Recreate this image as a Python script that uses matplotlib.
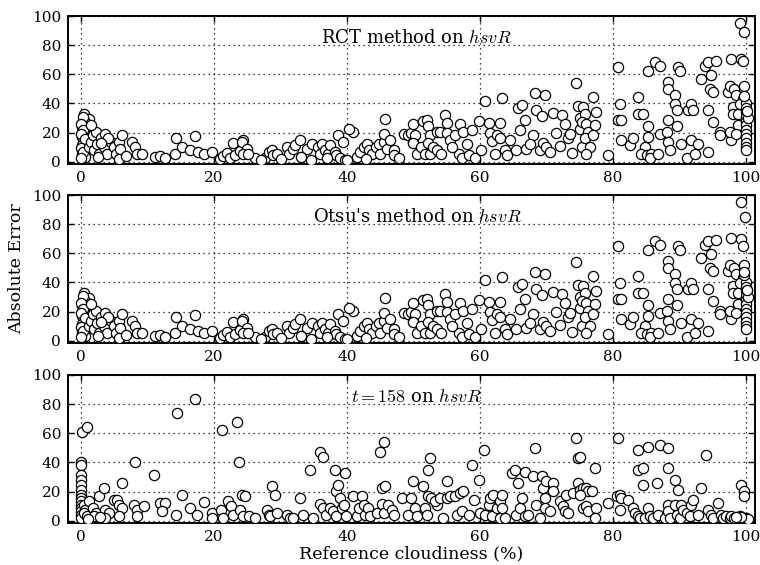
import matplotlib
matplotlib.use("Agg")
import matplotlib.pyplot as plt

# ---------------- data ----------------
panel_titles = [r"RCT method on $hsvR$", r"Otsu's method on $hsvR$", r"$t = 158$ on $hsvR$"]
x_ticks = [0, 20, 40, 60, 80, 100]
y_ticks = [0, 20, 40, 60, 80, 100]

rct_x = [0.4, 1.1, 0.6, 0.1, 0.4, 0.1, 0.6, 0.1, 0.4, 0.1, 0.6, 0.2, 0.0, 0.3, 0.0, 0.5, 0.0, 0.3, 0.0,
         1.1, 1.4, 1.7, 2.2, 1.9, 2.4, 2.9, 2.7, 3.4, 3.6, 3.9, 4.4, 4.9, 5.2, 5.7, 5.9, 6.2, 5.7, 7.6, 8.1, 8.4, 9.1, 1.5, 2.5, 4.0, 6.8, 3.0,
         11.1, 11.9, 12.6, 14.1, 14.3, 15.1, 16.4, 17.1, 17.6, 18.4, 19.6,
         20.9, 21.4, 21.9, 22.4, 22.8, 23.2, 23.9, 24.4,
         24.2, 24.9, 24.4, 26.2, 25.1, 27.7, 28.2, 28.7, 28.9, 29.4, 30.9, 31.2, 31.9, 32.2, 32.9, 34.0, 34.7, 35.7, 36.2, 35.9, 36.7, 37.2, 37.4, 38.2, 38.4, 38.9, 39.7,
         38.7, 39.4, 40.9, 40.3,
         41.5, 42.0, 42.5, 43.0, 43.3, 43.8, 44.3, 44.8, 45.0, 45.5, 45.5, 45.7, 46.0, 46.5, 47.0, 47.0, 48.5, 49.2, 49.7, 50.0, 50.0,
         27.0, 30.0, 33.0, 34.5, 37.0, 40.0, 42.8, 47.8,
         50.2, 50.0, 50.5, 51.2, 51.5, 52.0, 52.2, 52.5, 52.2, 51.8, 52.5, 53.0, 53.5, 54.0, 53.5, 54.2, 54.7, 55.0, 55.0, 55.5, 56.3, 56.8, 57.0, 57.5, 57.3, 58.3, 58.8, 59.3, 59.8,
         60.8, 61.3, 61.5, 61.8, 62.3, 62.5, 63.0, 63.3, 63.0, 63.8, 64.0, 65.5, 65.8, 66.3, 66.8, 67.0, 68.0, 68.3, 68.5, 69.0, 69.3, 69.8, 69.5, 70.0, 70.5,
         71.0, 72.3, 72.8, 73.3, 73.5, 74.5, 74.8, 75.0, 75.3, 75.0,
         55.8, 58.0, 60.2, 64.5, 66.0, 67.5, 71.5, 72.0, 73.8,
         77.0, 75.5, 75.8, 75.3, 76.0, 76.3, 75.8, 76.5, 76.0, 77.3, 77.5, 77.0, 79.3, 80.8, 81.1, 80.8, 81.3, 81.3, 82.6, 83.1, 83.8, 83.8, 84.6, 84.8, 84.3, 85.1,
         85.3, 85.3, 85.3, 85.8, 85.6, 86.3, 87.1, 87.1, 86.8, 88.3, 88.3, 89.3, 89.3, 89.6, 88.3, 88.1, 88.3, 88.6, 89.6, 89.8, 90.1, 90.3,
         91.3, 91.8, 92.1, 91.8, 91.1, 92.3, 92.8, 93.3, 93.8, 94.3, 94.8, 94.6, 95.1, 94.3, 95.1, 94.3, 95.6, 96.1, 96.1,
         97.3, 97.6, 97.8, 97.8, 97.6, 98.1, 98.1, 98.3, 98.6, 98.8, 99.1, 99.3, 99.6, 99.8, 99.8, 99.6, 99.1, 98.8, 98.6,
         100.0, 100.0, 100.0, 100.0, 100.0, 100.0, 100.0, 100.0, 100.0, 100.0, 100.0, 100.0, 100.3, 99.8, 100.2]
rct_y = [33.0, 29.6, 27.3, 23.9, 20.5, 17.1, 13.7, 11.4, 8.0, 5.7, 3.4, 30.5, 26.0, 22.0, 19.0, 15.5, 9.5, 6.5, 2.5,
         10.2, 13.7, 18.2, 20.5, 8.0, 12.5, 16.0, 5.7, 10.2, 19.4, 5.7, 13.7, 10.2, 5.7, 13.7, 9.0, 18.2, 1.6, 13.7, 10.2, 5.7, 5.7, 25.0, 3.0, 16.0, 4.0, 13.0,
         3.4, 3.9, 2.3, 5.7, 16.4, 10.2, 8.0, 17.5, 7.0, 5.7, 7.0,
         1.7, 3.9, 6.2, 2.8, 13.0, 5.0, 7.3, 15.3,
         13.7, 9.0, 5.7, 2.3, 5.7, 2.3, 7.0, 8.0, 4.6, 5.7, 10.2, 5.7, 9.0, 11.4, 14.8, 9.0, 12.5, 10.2, 12.5, 5.7, 8.0, 5.7, 11.4, 7.0, 4.6, 2.3, 1.1,
         18.2, 13.7, 20.5, 22.8,
         3.4, 7.0, 10.2, 12.5, 8.0, 5.7, 10.2, 12.5, 5.7, 13.7, 19.4, 29.6, 9.0, 14.8, 8.0, 4.6, 19.4, 18.2, 19.9, 26.2, 13.7,
         1.5, 2.0, 3.0, 1.5, 2.5, 1.5, 2.0, 2.5,
         18.7, 13.0, 5.7, 10.2, 27.8, 29.0, 24.4, 18.7, 13.0, 5.7, 5.7, 10.2, 20.5, 20.5, 8.0, 5.7, 32.4, 26.7, 19.9, 14.8, 18.2, 5.7, 25.6, 20.5, 2.3, 4.6, 21.6, 2.3, 27.8,
         41.5, 26.7, 19.9, 14.1, 5.7, 18.2, 16.0, 43.8, 26.7, 8.0, 4.6, 8.0, 37.0, 39.2, 29.0, 9.0, 18.2, 47.2, 35.8, 8.0, 31.2, 46.1, 13.0, 10.2, 7.0,
         33.5, 32.4, 25.6, 16.0, 19.4, 54.0, 38.1, 30.1, 10.2, 22.7,
         10.0, 12.0, 8.0, 15.0, 22.0, 12.0, 20.0, 11.0, 6.0,
         44.4, 37.6, 33.0, 27.3, 26.2, 20.5, 16.0, 10.2, 5.7, 25.0, 34.1, 18.2, 4.6, 64.8, 39.8, 28.4, 28.4, 14.8, 11.4, 16.0, 44.4, 33.0, 33.0, 10.2, 5.7, 4.6,
         62.6, 24.9, 17.1, 5.7, 2.3, 68.3, 66.0, 19.4, 5.7, 54.6, 50.1, 45.5, 39.8, 35.2, 28.4, 20.5, 13.7, 8.0, 24.9, 64.8, 62.6, 12.5,
         35.2, 39.8, 35.2, 14.8, 2.3, 5.7, 12.5, 56.9, 66.0, 68.3, 59.2, 50.1, 47.8, 35.2, 27.3, 6.8, 69.4, 20.5, 18.2,
         47.8, 52.3, 70.6, 14.8, 20.5, 37.6, 33.0, 50.1, 45.5, 33.0, 95.5, 70.6, 69.4, 88.7, 52.3, 43.3, 39.8, 25.0, 19.4,
         40.0, 37.0, 34.0, 31.0, 28.0, 25.0, 22.0, 19.0, 16.0, 13.0, 10.0, 8.0, 30.0, 45.0, 35.0]

otsu_x = [0.4, 1.1, 0.6, 0.1, 0.4, 0.1, 0.6, 0.1, 0.4, 0.1, 0.6, 0.2, 0.0, 0.3, 0.0, 0.5, 0.0, 0.3, 0.0,
          1.1, 1.4, 1.7, 2.2, 1.9, 2.4, 2.9, 2.7, 3.4, 3.6, 3.9, 4.4, 4.9, 5.2, 5.7, 5.9, 6.2, 5.7, 7.6, 8.1, 8.4, 9.1, 1.5, 2.5, 4.0, 6.8, 3.0,
          11.1, 11.9, 12.6, 14.1, 14.3, 15.1, 16.4, 17.1, 17.6, 18.4, 19.6,
          20.9, 21.4, 21.9, 22.4, 22.8, 23.2, 23.9, 24.4,
          24.2, 24.9, 24.4, 26.2, 25.1, 27.7, 28.2, 28.7, 28.9, 29.4, 30.9, 31.2, 31.9, 32.2, 32.9, 34.0, 34.7, 35.7, 36.2, 35.9, 36.7, 37.2, 37.4, 38.2, 38.4, 38.9, 39.7,
          38.7, 39.4, 40.9, 40.3,
          41.5, 42.0, 42.5, 43.0, 43.3, 43.8, 44.3, 44.8, 45.0, 45.5, 45.5, 45.7, 46.0, 46.5, 47.0, 47.0, 48.5, 49.2, 49.7, 50.0, 50.0,
          27.0, 30.0, 33.0, 34.5, 37.0, 40.0, 42.8, 47.8,
          50.2, 50.0, 50.5, 51.2, 51.5, 52.0, 52.2, 52.5, 52.2, 51.8, 52.5, 53.0, 53.5, 54.0, 53.5, 54.2, 54.7, 55.0, 55.0, 55.5, 56.3, 56.8, 57.0, 57.5, 57.3, 58.3, 58.8, 59.3, 59.8,
          60.8, 61.3, 61.5, 61.8, 62.3, 62.5, 63.0, 63.3, 63.0, 63.8, 64.0, 65.5, 65.8, 66.3, 66.8, 67.0, 68.0, 68.3, 68.5, 69.0, 69.3, 69.8, 69.5, 70.0, 70.5,
          71.0, 72.3, 72.8, 73.3, 73.5, 74.5, 74.8, 75.0, 75.3, 75.0,
          55.8, 58.0, 60.2, 64.5, 66.0, 67.5, 71.5, 72.0, 73.8,
          77.0, 75.5, 75.8, 75.3, 76.0, 76.3, 75.8, 76.5, 76.0, 77.3, 77.5, 77.0, 79.3, 80.8, 81.1, 80.8, 81.3, 81.3, 82.6, 83.1, 83.8, 83.8, 84.6, 84.8, 84.3, 85.1,
          85.3, 85.3, 85.3, 85.8, 85.6, 86.3, 87.1, 87.1, 86.8, 88.3, 88.3, 89.3, 89.3, 89.6, 88.3, 88.1, 88.3, 88.6, 89.6, 89.8, 90.1, 90.3,
          91.3, 91.8, 92.1, 91.8, 91.1, 92.3, 92.8, 93.3, 93.8, 94.3, 94.8, 94.6, 95.1, 94.3, 95.1, 94.3, 95.6, 96.1, 96.1,
          97.3, 97.6, 97.8, 97.8, 97.6, 98.1, 98.1, 98.3, 98.6, 98.8, 99.3, 99.3, 99.6, 99.9, 99.8, 99.6, 99.1, 98.8, 98.6,
          100.0, 100.0, 100.0, 100.0, 100.0, 100.0, 100.0, 100.0, 100.0, 100.0, 100.0, 100.0, 100.3, 99.8, 100.2, 99.7]
otsu_y = [33.0, 29.6, 27.3, 23.9, 20.5, 17.1, 13.7, 11.4, 8.0, 5.7, 3.4, 30.5, 26.0, 22.0, 19.0, 15.5, 9.5, 6.5, 2.5,
          10.2, 13.7, 18.2, 20.5, 8.0, 12.5, 16.0, 5.7, 10.2, 19.4, 5.7, 13.7, 10.2, 5.7, 13.7, 9.0, 18.2, 1.6, 13.7, 10.2, 5.7, 5.7, 25.0, 3.0, 16.0, 4.0, 13.0,
          3.4, 3.9, 2.3, 5.7, 16.4, 10.2, 8.0, 17.5, 7.0, 5.7, 7.0,
          1.7, 3.9, 6.2, 2.8, 13.0, 5.0, 7.3, 15.3,
          13.7, 9.0, 5.7, 2.3, 5.7, 2.3, 7.0, 8.0, 4.6, 5.7, 10.2, 5.7, 9.0, 11.4, 14.8, 9.0, 12.5, 10.2, 12.5, 5.7, 8.0, 5.7, 11.4, 7.0, 4.6, 2.3, 1.1,
          18.2, 13.7, 20.5, 22.8,
          3.4, 7.0, 10.2, 12.5, 8.0, 5.7, 10.2, 12.5, 5.7, 13.7, 19.4, 29.6, 9.0, 14.8, 8.0, 4.6, 19.4, 18.2, 19.9, 26.2, 13.7,
          1.5, 2.0, 3.0, 1.5, 2.5, 1.5, 2.0, 2.5,
          18.7, 13.0, 5.7, 10.2, 27.8, 29.0, 24.4, 18.7, 13.0, 5.7, 5.7, 10.2, 20.5, 20.5, 8.0, 5.7, 32.4, 26.7, 19.9, 14.8, 18.2, 5.7, 25.6, 20.5, 2.3, 4.6, 21.6, 2.3, 27.8,
          41.5, 26.7, 19.9, 14.1, 5.7, 18.2, 16.0, 43.8, 26.7, 8.0, 4.6, 8.0, 37.0, 39.2, 29.0, 9.0, 18.2, 47.2, 35.8, 8.0, 31.2, 46.1, 13.0, 10.2, 7.0,
          33.5, 32.4, 25.6, 16.0, 19.4, 54.0, 38.1, 30.1, 10.2, 22.7,
          10.0, 12.0, 8.0, 15.0, 22.0, 12.0, 20.0, 11.0, 6.0,
          44.4, 37.6, 33.0, 27.3, 26.2, 20.5, 16.0, 10.2, 5.7, 25.0, 34.1, 18.2, 4.6, 64.8, 39.8, 28.4, 28.4, 14.8, 11.4, 16.0, 44.4, 33.0, 33.0, 10.2, 5.7, 4.6,
          62.6, 24.9, 17.1, 5.7, 2.3, 68.3, 66.0, 19.4, 5.7, 54.6, 50.1, 45.5, 39.8, 35.2, 28.4, 20.5, 13.7, 8.0, 24.9, 64.8, 62.6, 12.5,
          35.2, 39.8, 35.2, 14.8, 2.3, 5.7, 12.5, 56.9, 66.0, 68.3, 59.2, 50.1, 47.8, 35.2, 27.3, 6.8, 69.4, 20.5, 18.2,
          47.8, 52.3, 70.6, 14.8, 20.5, 37.6, 33.0, 50.1, 45.5, 33.0, 95.0, 70.0, 65.0, 85.0, 52.3, 43.3, 39.8, 25.0, 19.4,
          40.0, 37.0, 34.0, 31.0, 28.0, 25.0, 22.0, 19.0, 16.0, 13.0, 10.0, 8.0, 30.0, 45.0, 35.0, 47.0]

t158_x = [0.1, 0.9, 0.0, 0.0, 0.0, 0.0, 0.0, 0.0, 0.0, 0.0, 0.0, 0.0, 0.0, 0.0, 0.0, 0.0, 0.4, 0.6, 0.4, 0.9,
          1.2, 1.7, 2.2, 1.9, 2.7, 3.4, 3.6, 4.1, 3.6, 4.9, 5.4, 5.7, 6.2, 5.7, 6.2, 7.9, 8.1, 8.4, 8.4, 9.4, 10.9, 11.9, 12.6, 12.1,
          14.2, 14.4, 15.2, 16.4, 17.1, 17.4, 18.4, 19.7, 19.7, 21.1, 21.2, 21.4, 22.1, 22.6, 22.8, 23.4, 23.7, 23.9, 24.2, 1.0, 2.8,
          24.7, 24.4, 25.2, 26.2, 27.9, 28.2, 28.4, 28.7, 29.2, 29.4, 30.9, 31.4, 31.9, 32.9, 33.4, 34.4, 34.9, 35.9, 35.9, 36.4, 36.4,
          36.9, 37.4, 37.9, 38.2, 38.4, 38.4, 38.7, 38.9, 39.2, 39.5, 39.7, 39.9, 40.9, 41.5, 41.8, 42.3, 42.6, 42.7, 43.2, 43.5, 44.5,
          45.0, 45.5, 45.2, 45.7, 45.2, 45.5, 46.2, 46.7, 47.0, 48.2, 49.2, 49.7, 50.0,
          50.2, 50.5, 51.5, 52.2, 52.5, 51.8, 52.0, 52.2, 52.7, 53.5, 53.2, 54.0, 54.5, 55.0, 55.0, 55.5, 56.3, 56.5, 57.0, 57.3, 57.5,
          58.3, 58.8, 59.1, 59.8, 60.0, 60.6, 60.8, 61.3, 61.5, 61.8, 62.0, 62.5, 63.0, 63.3, 63.0, 63.8, 63.3, 64.8, 65.3, 65.5, 65.8,
          66.0, 66.3, 66.8, 66.8, 67.3, 68.0, 68.3, 68.5, 69.0, 69.3, 69.5, 69.8, 70.0, 69.8, 70.5, 71.0, 71.0, 72.0, 72.5, 72.8, 73.0,
          73.3, 74.0, 74.5, 74.8, 75.0, 74.8, 75.0, 75.5, 75.5,
          76.0, 76.3, 76.8, 77.3, 75.0, 76.0, 76.3, 77.5, 77.3, 79.3, 80.6, 80.8, 81.1, 81.3, 81.1, 82.3, 83.1, 83.3, 83.8, 83.8, 83.8,
          84.1, 84.6, 84.6, 84.8, 85.3, 85.3, 85.6, 86.1, 86.6, 86.8, 87.1, 87.8, 88.3, 88.3, 88.3, 88.3, 88.6, 89.3, 89.3, 89.6, 89.8,
          90.1, 90.3, 90.6, 91.1, 91.6, 91.8, 92.1, 92.8, 93.3, 94.1, 94.3, 94.8, 95.1, 95.8, 96.3, 96.6, 97.1, 97.6, 97.8, 98.3, 98.8,
          99.1, 99.3, 99.8, 99.8, 99.6, 100.1, 100.3, 99.3, 98.6]
t158_y = [61.1, 64.5, 40.6, 38.3, 31.5, 28.1, 24.7, 21.3, 17.9, 15.6, 13.3, 11.0, 8.8, 6.5, 4.2, 1.9, 11.0, 7.6, 5.4, 3.1,
          13.3, 8.8, 5.4, 3.1, 16.8, 22.4, 7.6, 5.4, 1.9, 14.4, 14.4, 11.0, 8.8, 3.1, 25.9, 11.0, 40.4, 7.6, 3.1, 9.9, 31.3, 12.2, 12.2, 6.5,
          3.8, 73.6, 17.9, 8.8, 83.3, 3.8, 12.8, 5.4, 1.9, 7.6, 62.4, 1.9, 13.3, 9.9, 4.2, 67.9, 40.6, 7.6, 17.9, 1.5, 2.5,
          16.8, 3.1, 3.1, 1.9, 7.6, 4.2, 3.1, 24.2, 17.9, 5.4, 4.2, 1.9, 1.9, 15.6, 4.2, 34.9, 1.9, 11.5, 47.4, 44.0, 8.8,
          4.2, 8.8, 6.5, 34.9, 3.1, 20.2, 24.7, 15.6, 8.8, 11.0, 32.6, 3.1, 16.8, 3.1, 8.8, 16.8, 11.0, 4.2, 8.8, 3.1, 5.4,
          47.4, 54.2, 22.4, 23.6, 11.5, 5.4, 11.0, 7.6, 4.2, 15.6, 4.2, 15.6, 27.0,
          8.8, 3.1, 23.6, 34.9, 42.9, 8.8, 4.2, 16.8, 15.6, 11.0, 13.3, 15.6, 1.9, 27.0, 15.6, 16.8, 16.8, 4.2, 19.1, 6.5, 20.2,
          4.2, 38.3, 14.4, 28.1, 5.4, 48.5, 4.2, 11.0, 15.6, 3.1, 17.9, 8.8, 13.3, 17.9, 1.9, 1.9, 8.8, 32.6, 34.9, 4.2, 25.9,
          8.8, 15.6, 33.7, 3.1, 4.2, 30.4, 49.7, 11.0, 1.9, 30.4, 22.4, 15.6, 27.0, 8.8, 6.5, 25.9, 20.2, 13.3, 9.9, 6.5, 17.9,
          5.4, 19.1, 56.5, 42.9, 44.0, 25.9, 21.3, 22.4, 8.8,
          22.4, 20.2, 20.2, 36.1, 17.9, 9.9, 6.5, 8.8, 1.9, 12.2, 16.8, 56.5, 17.9, 15.6, 7.6, 14.4, 8.8, 5.4, 3.1, 34.9, 48.5,
          1.9, 36.1, 24.7, 1.9, 50.8, 8.8, 3.1, 1.9, 25.9, 4.2, 52.0, 1.9, 49.7, 36.1, 11.0, 6.5, 1.9, 28.1, 11.0, 4.2, 21.3,
          1.9, 11.0, 7.6, 5.4, 3.1, 11.0, 14.4, 4.2, 22.4, 45.2, 7.6, 4.2, 1.9, 12.2, 4.2, 1.9, 3.1, 1.9, 3.1, 1.9, 1.9,
          3.1, 24.7, 20.2, 16.8, 1.9, 1.9, 1.5, 2.4, 2.4]

series = [(rct_x, rct_y), (otsu_x, otsu_y), (t158_x, t158_y)]

# ---------------- style ----------------
plt.rcParams['font.family'] = ['DejaVu Serif']
plt.rcParams['mathtext.fontset'] = 'cm'

fig = plt.figure(figsize=(7.6, 5.65), dpi=100)
W, H = 760.0, 565.0
left, right = 68 / W, 755 / W
tops = [16, 195, 375]
ph = 148

axes = []
for i, top in enumerate(tops):
    ax = fig.add_axes([left, 1 - (top + ph) / H, right - left, ph / H])
    xs, ys = series[i]
    ax.scatter(xs, ys, s=54, facecolors='white', edgecolors='black', linewidths=0.9, zorder=3)
    ax.set_xlim(-2, 101.4)
    ax.set_ylim(-1.5, 100)
    ax.set_xticks(x_ticks)
    ax.set_yticks(y_ticks)
    ax.tick_params(direction='in', top=True, right=True, length=4, width=1, labelsize=11, pad=5)
    ax.grid(True, color='black', linestyle=(0, (1, 3)), linewidth=0.9)
    ax.set_axisbelow(True)
    for sp in ax.spines.values():
        sp.set_linewidth(1.4)
    ax.text(0.508, 0.85, panel_titles[i], transform=ax.transAxes, ha='center', va='center', fontsize=13)
    axes.append(ax)

axes[1].set_ylabel('Absolute Error', fontsize=12.5, labelpad=5)
axes[2].set_xlabel('Reference cloudiness (%)', fontsize=12.5, labelpad=1)

fig.savefig('out.png', dpi=100)
